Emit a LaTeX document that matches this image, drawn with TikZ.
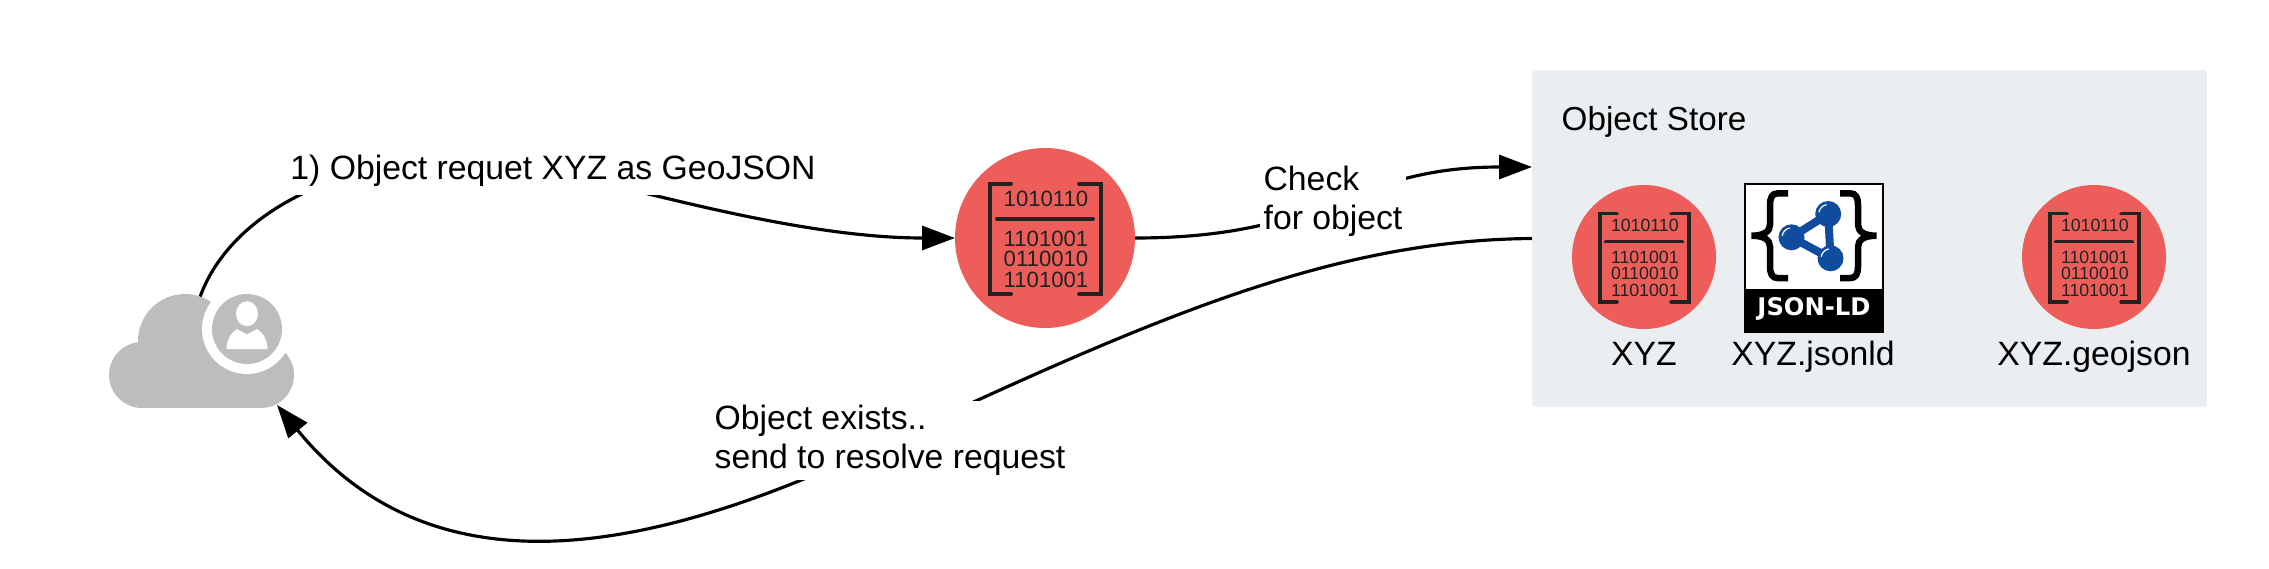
\documentclass[tikz,border=0pt]{standalone}
\usepackage{fontspec}
\setmainfont{Liberation Sans}
\usetikzlibrary{arrows.meta,backgrounds}
\definecolor{discred}{HTML}{ED5E5A}
\definecolor{inkdark}{HTML}{222222}
\definecolor{cloudgray}{HTML}{BDBDBD}
\definecolor{storegray}{HTML}{EBEEF1}
\definecolor{jldblue}{HTML}{0F4C9E}

\begin{document}
\begin{tikzpicture}[
		>={Triangle[length=3.3mm,width=2.4mm]},
		datacirc/.style={circle, fill=discred, minimum size=1.80cm, inner sep=0pt, outer sep=0pt},
		brk/.style={inkdark, line width=1.1pt, line cap=round},
		bits/.style={inkdark, font=\fontsize{6.3}{7}\selectfont, inner sep=0pt},
		lbl/.style={font=\fontsize{9.6}{11.1}\selectfont, inner sep=0.04cm, align=left},
		lblw/.style={lbl, fill=white},
		storebox/.style={fill=storegray, rounded corners=0.03cm, minimum width=6.75cm, minimum height=3.37cm, inner sep=0pt, outer sep=0pt},
		arrow/.style={line width=0.9pt,->},
		binmatrix/.pic={
			\node[datacirc] (-disc) {};
			\draw[brk] (-.34,.543) -| (-.553,-.56) -- (-.34,-.56);
			\draw[brk] (.34,.543) -| (.56,-.56) -- (.34,-.56);
			\draw[brk] (-.48,.193) -- (.48,.193);
			\node[bits] (-head) at (.01,.39) {1010110};
			\node[bits] (-rowa) at (.01,-.01) {1101001};
			\node[bits] (-rowb) at (.01,-.21) {0110010};
			\node[bits] (-rowc) at (.01,-.42) {1101001};
		},
		usercloud/.pic={
			\coordinate (-top) at (-.47,.32);
			\coordinate (-tip) at (.30,-.76);
			\fill[cloudgray] (-1.05,-.46) circle (.33) (-.62,-.12) circle (.47) (.14,-.46) circle (.33);
			\fill[cloudgray] (-1.05,-.79) rectangle (.14,-.2);
			\fill[white] (0,0) circle (.45);
			\fill[cloudgray] (0,0) circle (.35);
			\fill[white] (0,.153) ellipse (.11 and .125);
			\fill[white] (-.205,-.2) .. controls (-.2,-.09) and (-.15,-.03) .. (-.1,0) -- (0,-.055) -- (.1,0) .. controls (.15,-.03) and (.2,-.09) .. (.205,-.2) -- cycle;
		},
		jsonlogo/.pic={
			\node[draw=black, line width=.02cm, fill=white, minimum width=1.38cm, minimum height=1.48cm, inner sep=0pt] (-box) {};
			\fill[black] (-.702,-.318) rectangle (.702,-.752);
			\node[text=white, font=\fontsize{6.9}{8}\selectfont\bfseries\jldfont, inner sep=0pt] (-name) at (0,-.518) {JSON-LD};
			\foreach \sx in {1,-1}
				\draw[black, line width=.065cm, xscale=\sx] (-.26,.642) -- (-.36,.642) .. controls (-.42,.642) and (-.44,.60) .. (-.44,.52) -- (-.44,.33) .. controls (-.44,.26) and (-.50,.218) .. (-.625,.218) .. controls (-.50,.218) and (-.44,.176) .. (-.44,.106) -- (-.44,-.084) .. controls (-.44,-.164) and (-.42,-.206) .. (-.36,-.206) -- (-.26,-.206);
			\draw[jldblue, line width=.08cm, line join=round] (-.225,.202) -- (.142,.435) -- (.165,-.008) -- cycle;
			\foreach \bx/\by in {-.225/.202, .142/.435, .165/-.008} {
				\fill[jldblue] (\bx,\by) circle (.13);
				\draw[white, line width=.012cm] (\bx,\by) ++(170:.095) arc (170:100:.095);
			}
		}
		]
		\newfontfamily\jldfont{DejaVu Sans}

		\useasboundingbox (0,0) rectangle (22.69,5.68);

		\pic (usr) at (2.47,2.39) {usercloud};
		\pic (srv) at (10.45,3.30) {binmatrix};

		\node[storebox] (store) at (18.695,3.295) {};
		\coordinate (storein) at (15.32,4.01);
		\node[font=\fontsize{9.45}{11}\selectfont, inner sep=0pt] (storelbl) at (16.54,4.46) {Object Store};

		\pic[scale=.8,transform shape] (xyz) at (16.44,3.11) {binmatrix};
		\pic (jld) at (18.14,3.105) {jsonlogo};
		\pic[scale=.8,transform shape] (geo) at (20.94,3.11) {binmatrix};
		\node[lbl,anchor=base] (xyzlbl) at (16.44,2.03) {XYZ};
		\node[lbl,anchor=base] (jldlbl) at (18.13,2.03) {XYZ.jsonld};
		\node[lbl,anchor=base] (geolbl) at (20.94,2.03) {XYZ.geojson};

		\node[lblw,inner ysep=0.08cm] (reqlbl) at (5.53,3.97) {1) Object requet XYZ as GeoJSON};
		\node[lblw] (chklbl) at (13.33,3.67) {Check\\for object};
		\node[lblw] (donelbl) at (8.90,1.275) {Object exists..\\send to resolve request};

		\begin{scope}[on background layer]
			\draw[arrow] (usr-top) .. controls (2.35,3.68) and (3.80,4.33) .. (reqlbl.center) .. controls (6.40,3.78) and (8.00,3.30) .. (srv-disc.west);
			\draw[arrow] (srv-disc.east) .. controls (13.30,3.30) and (13.50,4.01) .. (storein);
			\draw[arrow] (store.west) .. controls (13.30,3.28) and (11.50,2.48) .. (donelbl.center) .. controls (6.40,.07) and (4.30,-.24) .. (usr-tip);
		\end{scope}
	\end{tikzpicture}
\end{document}
